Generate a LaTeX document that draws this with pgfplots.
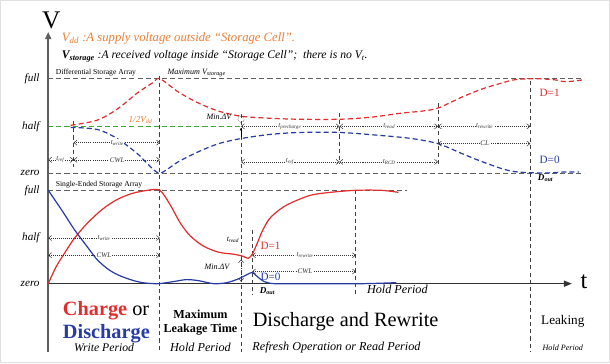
\documentclass[border=0pt]{standalone}
\usepackage{pgfplots}
\pgfplotsset{compat=1.18}
\usepackage{fontspec}
\setmainfont{Liberation Serif}
\usetikzlibrary{arrows.meta}
\definecolor{cred}{RGB}{225,45,45}
\definecolor{cblue}{RGB}{40,60,165}
\definecolor{cgreen}{RGB}{60,170,50}
\definecolor{corange}{RGB}{235,125,50}
\definecolor{cgray}{RGB}{95,95,95}
\newcommand{\fs}[1]{\fontsize{#1}{#1}\selectfont}
\begin{document}
\begin{tikzpicture}[
  gd/.style={cgray, dash pattern=on 5pt off 3pt, line width=0.9pt},
  vd/.style={black!75, dash pattern=on 4pt off 3pt, line width=0.9pt},
  ar/.style={black!80, dash pattern=on 1pt off 1pt, line width=0.5pt, {Straight Barb[length=3pt,width=5pt]}-{Straight Barb[length=3pt,width=5pt]}},
  al/.style={font=\fs{7}\itshape, fill=white, inner sep=0.6pt, text=black!80},
  lv/.style={anchor=east, font=\fs{11}\itshape},
]
\begin{axis}[scale only axis, width=610pt, height=370pt, xmin=0, xmax=610, ymin=0, ymax=370, y dir=reverse, axis lines=none, clip=false]
% frame
\draw[black!12, line width=1pt] (5,6) rectangle (605,363);
% header
\node[font=\fs{25}] at (55,26) {V};
\node[anchor=base west, text=corange, font=\fs{12.5}\itshape] at (62,46) {V\textsubscript{dd} :A supply voltage outside “Storage Cell”.};
\node[anchor=base west, font=\fs{11.5}\itshape] at (62,63) {\textbf{V\textsubscript{storage}} :A received voltage inside “Storage Cell”;\ \ there is no V\textsubscript{t}.};
% horizontal reference lines
\draw[gd] (52,83) -- (580,83);
\draw[gd] (52,176) -- (580,176);
\draw[gd] (52,193) -- (405,193);
\draw[cgreen, dash pattern=on 5pt off 3pt, line width=1.1pt] (52,130) -- (242,130);
% vertical dividers
\draw[vd] (162,80) -- (162,352);
\draw[vd] (242,118) -- (242,352);
\draw[vd] (527,85) -- (527,352);
\draw[vd] (77,125) -- (77,170);
\draw[vd] (339,117) -- (339,167);
\draw[vd] (436,107) -- (436,167);
\draw[vd] (253,232) -- (253,296);
\draw[vd] (355,193) -- (355,297);
% axes
\draw[cgray, line width=1.6pt, -{Triangle[length=7pt,width=6pt]}] (52,352) -- (52,37);
\draw[black!80, line width=1.4pt, -{Triangle[length=8pt,width=6pt]}] (52,285) -- (568,285);
\node[font=\fs{24}] at (580,283) {t};
% level labels
\node[lv] at (47,83) {full};
\node[lv] at (47,130) {half};
\node[lv] at (47,176) {zero};
\node[lv] at (47,193) {full};
\node[lv] at (47,240) {half};
\node[lv] at (47,285) {zero};
\node[anchor=base west, font=\fs{7.5}] at (56,79) {Differential Storage Array};
\node[anchor=base west, font=\fs{8}\itshape] at (166,79) {Maximum V\textsubscript{storage}};
\node[anchor=base west, font=\fs{7.5}] at (56,189) {Single-Ended Storage Array};
\node[font=\fs{9}\itshape, text=corange] at (143,124) {1/2V\textsubscript{dd}};
% upper curves
\addplot[cred, mark=none, smooth, dash pattern=on 5pt off 3pt, line width=1.2pt] coordinates {
 (74,129) (100,124) (120,113) (140,97) (155,87) (162,83) (180,96) (200,107) (220,115) (242,120)
 (270,122) (300,123) (339,123) (370,121) (400,117) (420,115) (436,112) (460,101) (480,93) (500,87)
 (512,84) (530,83) (550,84) (562,86) (580,84)};
\addplot[cblue, mark=none, smooth, dash pattern=on 5pt off 3pt, line width=1.2pt] coordinates {
 (74,131) (100,133) (120,142) (140,157) (150,167) (162,176) (180,165) (200,155) (220,147) (242,142)
 (270,138) (300,136) (339,136) (380,139) (410,142) (436,147) (460,157) (480,165) (500,172)
 (515,175) (540,176) (560,175) (575,175)};
% upper arrows
\draw[ar] (52,163) -- (77,163); \node[al] at (64,163) {t\textsubscript{ref}};
\draw[ar] (77,163) -- (162,163); \node[al] at (120,163) {CWL};
\draw[ar] (77,146) -- (162,146); \node[al] at (120,146) {t\textsubscript{write}};
\draw[ar] (242,130) -- (339,130); \node[al] at (290,130) {t\textsubscript{precharge}};
\draw[ar] (339,130) -- (436,130); \node[al] at (388,130) {t\textsubscript{read}};
\draw[ar] (436,130) -- (527,130); \node[al] at (482,130) {t\textsubscript{rewrite}};
\draw[ar] (242,165) -- (339,165); \node[al] at (290,165) {t\textsubscript{ref}};
\draw[ar] (339,165) -- (436,165); \node[al] at (388,165) {t\textsubscript{RCD}};
\draw[ar] (436,147) -- (527,147); \node[al] at (482,147) {CL};
\node[anchor=east, font=\fs{8}\itshape] at (236,121) {Min.ΔV};
\draw[black, densely dotted] (242,123) circle (3.2pt);
\draw[black, line width=0.8pt, -{Latex[length=3pt,width=3pt]}] (242,140) -- (242,131);
\node[text=cred, font=\fs{11}] at (546,97) {D=1};
\node[text=cblue, font=\fs{11}] at (546,163) {D=0};
\node[font=\fs{9}\itshape\bfseries] at (542,181) {D\textsubscript{out}};
% lower curves
\addplot[cred, mark=none, smooth, line width=1.2pt] coordinates {
 (52,285) (60,268) (70,252) (78,240) (90,226) (105,212) (120,202) (135,196) (150,193) (162,193)
 (172,207) (182,225) (192,238) (205,248) (220,254) (235,256) (244,258) (249,260) (253,256)
 (258,245) (263,233) (270,221) (280,212) (290,206) (310,198) (330,195) (355,193) (380,193) (397,195)};
\addplot[cblue, mark=none, smooth, line width=1.2pt] coordinates {
 (52,193) (65,212) (78,232) (90,248) (100,261) (110,270) (120,276) (133,281) (145,284) (160,285)
 (175,283) (188,281) (200,282) (215,285) (228,284) (240,280) (248,276) (253,274) (258,278)
 (265,283) (275,285) (300,285) (360,285) (395,284)};
% lower arrows
\draw[ar] (52,240) -- (162,240); \node[al] at (107,240) {t\textsubscript{write}};
\draw[ar] (52,257) -- (162,257); \node[al] at (107,257) {CWL};
\draw[ar] (253,257) -- (355,257); \node[al] at (305,257) {t\textsubscript{rewrite}};
\draw[ar] (253,273) -- (355,273); \node[al] at (305,273) {CWL};
\draw[ar] (242,261) -- (242,283);
\node[font=\fs{7.5}\itshape, fill=white, inner sep=0.5pt] at (234,242) {t\textsubscript{read}};
\node[anchor=east, font=\fs{8}\itshape] at (234,268) {Min.ΔV};
\node[text=cred, font=\fs{11}] at (271,248) {D=1};
\node[text=cblue, font=\fs{11}] at (271,278) {D=0};
\node[font=\fs{9}\itshape\bfseries] at (268,292) {D\textsubscript{out}};
\node[font=\fs{12}\itshape] at (396,291) {Hold Period};
% bottom texts
\node[anchor=base west, font=\fs{20}] at (63,316) {\textcolor{cred}{\textbf{Charge}} or};
\node[anchor=base west, font=\fs{20}\bfseries, text=cblue] at (63,339) {Discharge};
\node[font=\fs{11.5}\itshape] at (107,348) {Write Period};
\node[font=\fs{12}\bfseries] at (202,315) {Maximum};
\node[font=\fs{12}\bfseries] at (202,330) {Leakage Time};
\node[font=\fs{12}\itshape] at (202,348) {Hold Period};
\node[font=\fs{20}] at (345,322) {Discharge and Rewrite};
\node[font=\fs{12}\itshape] at (336,348) {Refresh Operation or Read Period};
\node[font=\fs{13}] at (559,322) {Leaking};
\node[font=\fs{8}\itshape] at (559,348) {Hold Period};
\end{axis}
\end{tikzpicture}
\end{document}
